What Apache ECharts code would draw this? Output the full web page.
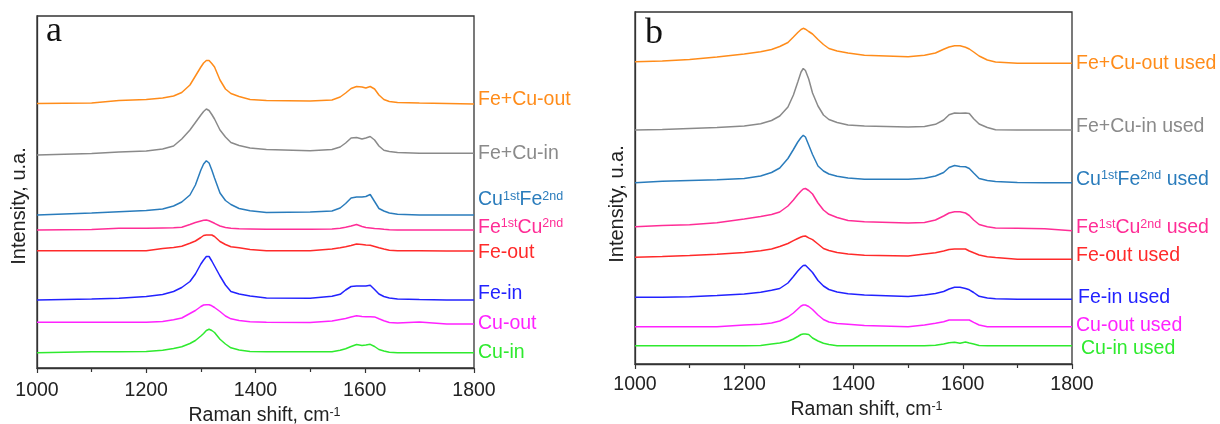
<!DOCTYPE html>
<html><head><meta charset="utf-8">
<script src="https://cdn.jsdelivr.net/npm/echarts@6/dist/echarts.min.js"></script>
<style>html,body{margin:0;padding:0;background:#fff}#c{width:1220px;height:424px}</style>
</head><body><div id="c"></div>
<script>
// ---------- Panel a (as prepared) ----------
const wavenumberA = [1000,1100,1150,1200,1230,1250,1265,1280,1290,1300,1305,1310,1315,1320,1325,1335,1345,1355,1370,1390,1420,1500,1540,1555,1565,1575,1585,1595,1602,1610,1618,1626,1635,1645,1660,1700,1750,1800];
const feCuOut = [264.5,265,267.5,268.5,270,272,275.5,283,292,301,305,307.5,307.5,304.5,301,288,279,274.5,271.5,268.5,267.5,267,268,271,275,279.5,281.5,281,280,281.5,279,273,268.5,266.5,265.5,265,264.5,264];
const feCuIn = [213,214.5,216,217,219,222,229,238,245.5,253,256.5,259,257.5,253.5,249,238,231,225.5,222.5,220,218.5,217.3,218.5,221,225,230,230.5,229,230,231.5,228,222,217.7,216.5,215.5,214.7,214.7,214.7];
const cuFeA = [153,155,156.3,157.5,159,162,166,173,183,198,204,207.3,205,198,190,175,167.5,163.5,159.5,157.3,155.5,156,157,160,164.5,170,171,171,171.5,173.5,166.5,159.5,157,155,153.7,153,153,153];
const feCuA = [138,138.5,139.7,139.7,140,140.2,140.7,143.5,145.5,147,147.7,148,147.2,146,144.7,142,140.5,139.7,139.2,139,138.7,138.7,139,139.8,140.7,142,143.5,141.5,140.5,140,139.5,139.2,138.7,138.2,138,138,138,138];
const feOut = [117.3,117.3,117.3,117.3,119.5,120.5,121.7,124.7,127,130.5,132.5,133,133,133,131.5,126.5,123.5,121.2,120.2,118.5,117.3,117.3,119,120.2,121.2,122.5,124,123.5,123,122.7,121.5,120.2,119,117.7,117.3,117.3,117,117];
const feIn = [68,69,69.7,71.5,73.5,76.5,80.5,86.5,94,104,108,111.5,111.5,107,102,92,83,76.5,74,72,70,69.7,71.7,73.7,78,81.5,82,82,82,82.7,78.5,74,71.5,70,69,68.5,68,68];
const cuOut = [45.7,45.7,45.7,45.7,46.5,48.2,50,54.5,57.5,61.5,63,63.3,63.3,62.2,60.5,56.5,52,49.2,47.5,46.2,45.7,45.5,47,48.5,49.5,51,52.3,51.5,51.3,51.3,51.1,49.2,47.2,45.5,45,46,44,44];
const cuIn = [15.3,16.3,16.3,16.5,17.8,19.5,21.2,24.5,27.5,32,34.5,37.5,38.8,37.5,35.5,28.7,24,20.2,18,16.5,16.3,16.3,16.3,17.7,19.3,21.5,23.5,22.5,23,23.7,21.5,18.5,17,15.7,15.3,15.3,15.3,15.3];
const labelsA = ['Fe+Cu-out','Fe+Cu-in','{n|Cu}{s|1st}{n|Fe}{s|2nd}','{n|Fe}{s|1st}{n|Cu}{s|2nd}','Fe-out','Fe-in','Cu-out','Cu-in'];

// ---------- Panel b (used) ----------
const wavenumberB = [1000,1050,1100,1150,1200,1230,1250,1265,1280,1290,1298,1304,1308,1312,1318,1325,1335,1345,1355,1370,1390,1420,1500,1530,1550,1565,1575,1585,1595,1605,1612,1620,1630,1645,1660,1700,1750,1800];
const feCuOutUsed = [302.3,303,304.5,307,310,312.2,314.5,317.5,321.5,327,331.5,334.5,335.7,334.8,332.5,330,324.5,319.5,315.5,313,311,308.8,307.3,308.8,311,314.7,317,318.3,318.3,316.7,315,312,308,304,302,300.7,300.7,300.7];
const feCuInUsed = [234,234.5,235.5,236.5,238,240.2,243.5,248,257,269,282,292,295.5,293.5,285,271,258,249,244.5,241.5,239,238,237,237.5,239.7,244,249.2,251,250.7,251,250.5,245.2,240,236.5,234.2,234,234,234];
const cuFeUsed = [181.3,182.7,183.5,184.2,185.5,188,191.5,196,205.5,214.5,222,226.5,228.7,227,219,209.5,198,193,190,187.7,186,184.7,184.7,185.7,188,191.5,196.5,198.5,197.5,197.3,195.5,191,185.5,183.5,182.5,181.5,181.3,181.3];
const feCuUsed = [137.3,138.5,139.3,141.3,145,147.5,149.5,152,158,164,169.5,173,175,175.5,173.5,170,161,154,149.7,146.5,143.5,142.2,141,141.5,144,148,151,152.3,152.3,151,148.5,144,139.5,137.3,136,135.7,135.2,133.3];
const feOutUsed = [106.7,107.5,108.5,109.8,111.5,113.2,115,117.5,120.5,123.3,125.5,127,127.8,128,126.2,124.3,120,115.5,113.5,111.5,110,108.7,108,110,111.2,113,114.5,115,115,115,113,111.2,109,107.3,106.5,104.7,104.7,104.7];
const feInUsed = [66.7,66.7,67.2,68.5,70,71.7,73.7,75.5,81,87.5,93,96.5,98.5,98.7,95.5,91.5,83.5,78,74.5,72,70.2,69,67.5,69,70.5,72.5,75,76.7,76.7,75.5,74.2,71.5,67.7,66,65.3,64.7,64.7,64.7];
const cuOutUsed = [37.3,37.3,37.3,37.3,39,39.7,41,43,47,51,55,58,59,59,57.5,54.5,49,44.5,42,40.5,39.7,38.5,37.3,39,40.7,42.3,44,44,44,44,44,41.7,39,37.3,37.3,37.3,37.3,37.3];
const cuInUsed = [18.3,18.3,18.3,18.3,18.3,18.5,20,21,22.7,25,27.5,29.5,30,30,29.5,26,23,20.7,19.5,18.3,18.3,18.3,18.3,18.3,18.8,20,21.2,21.7,20.7,22,21,20,18.5,18.3,18.3,18.3,18.3,18.3];
const labelsB = ['Fe+Cu-out used','Fe+Cu-in used','{n|Cu}{s|1st}{n|Fe}{s|2nd}{n| used}','{n|Fe}{s|1st}{n|Cu}{s|2nd}{n| used}','Fe-out used','Fe-in used','Cu-out used','Cu-in used'];

const xTicks = [1000,1200,1400,1600,1800];
const xTitle = '{n|Raman shift, cm}{s|-1}';
const yTitle = 'Intensity, u.a.';
const colors = ['#ff8c1a','#8a8a8a','#2a7cbc','#ff2d96','#ff2a2a','#2222ff','#ff22ff','#2eea2e'];

// label styling (vertical shift via padding, horizontal gap)
const labelShiftA = [-4,0,-15,-2.5,1.5,-6.5,0,0];
const labelShiftB = [0,-3,-3.5,-3,-3.5,-2,-1.5,3];
const labelGapA = [4,4,4,4,4,4,4,4];
const labelGapB = [4,4,4,4,4,6,4,9];

const seriesA = [feCuOut,feCuIn,cuFeA,feCuA,feOut,feIn,cuOut,cuIn];
const seriesB = [feCuOutUsed,feCuInUsed,cuFeUsed,feCuUsed,feOutUsed,feInUsed,cuOutUsed,cuInUsed];

const FONT = '"Liberation Sans", Arial, sans-serif';
function rich(color){
  return { n:{fontSize:19.5,color:color,fontFamily:FONT}, s:{fontSize:12.5,color:color,fontFamily:FONT,verticalAlign:'top'} };
}
function build(xs, ys, i, labels, shifts, gaps, axisIdx){
  const c = colors[i];
  const txt = labels[i].indexOf('{')>=0 ? labels[i] : '{n|'+labels[i]+'}';
  const d = shifts[i];
  const pad = d<0 ? [0,0,-2*d,0] : [2*d,0,0,0];
  return {
    type:'line', xAxisIndex:axisIdx, yAxisIndex:axisIdx,
    data: xs.map((x,k)=>[x, ys[k]]),
    showSymbol:false, symbol:'none', smooth:false, silent:true,
    lineStyle:{color:c, width:1.5}, itemStyle:{color:c},
    endLabel:{show:true, distance:gaps[i], formatter:()=>txt, rich:rich(c), padding:pad, color:c}
  };
}
function xAxisCfg(idx, gap, margin, shiftX){
  return {
    type:'value', gridIndex:idx, min:1000, max:1800, interval:200,
    axisLine:{show:true, onZero:false, lineStyle:{color:'#333', width:1.3}},
    axisTick:{show:true, length:5, lineStyle:{color:'#333', width:1.2}},
    minorTick:{show:true, splitNumber:2, length:4, lineStyle:{color:'#333', width:1.2}},
    axisLabel:{fontSize:19.5, color:'#222', margin:margin, fontFamily:FONT,
      formatter:v=> xTicks.indexOf(v)>=0 ? String(v) : ''},
    splitLine:{show:false}, minorSplitLine:{show:false},
    name:xTitle, nameLocation:'middle', nameGap:gap,
    nameTextStyle:{padding:[0,0,0,2*shiftX], rich:{n:{fontSize:19.5,color:'#222',fontFamily:FONT}, s:{fontSize:12.5,color:'#222',fontFamily:FONT,verticalAlign:'top'}}}
  };
}
function yAxisCfg(idx, down){
  return {
    type:'value', gridIndex:idx, min:0, max:352,
    axisLine:{show:true, lineStyle:{color:'#333', width:1.3}},
    axisTick:{show:false}, axisLabel:{show:false}, splitLine:{show:false},
    name:yTitle, nameLocation:'middle', nameGap:8, nameRotate:90,
    nameTextStyle:{fontSize:20, color:'#222', fontFamily:FONT, padding:[0,2*down,0,0]}
  };
}

const chart = echarts.init(document.getElementById('c'), null, {renderer:'canvas'});
const series = [];
seriesA.forEach((ys,i)=>series.push(build(wavenumberA, ys, i, labelsA, labelShiftA, labelGapA, 0)));
seriesB.forEach((ys,i)=>series.push(build(wavenumberB, ys, i, labelsB, labelShiftB, labelGapB, 1)));

chart.setOption({
  animation:false,
  backgroundColor:'#fff',
  grid:[
    {left:37, top:16, width:437, height:352, containLabel:false, outerBoundsMode:'none', show:true, borderColor:'#333', borderWidth:1.3, backgroundColor:'transparent'},
    {left:635, top:12, width:437, height:352, containLabel:false, outerBoundsMode:'none', show:true, borderColor:'#333', borderWidth:1.3, backgroundColor:'transparent'}
  ],
  xAxis:[xAxisCfg(0,38,13,9), xAxisCfg(1,33,11,13)],
  yAxis:[yAxisCfg(0,14), yAxisCfg(1,16)],
  graphic:[
    {type:'text', left:46, top:14, style:{text:'a', font:'36px "Liberation Serif", "Times New Roman", serif', fill:'#111'}},
    {type:'text', left:645, top:16, style:{text:'b', font:'36px "Liberation Serif", "Times New Roman", serif', fill:'#111'}}
  ],
  series:series
});
</script>
</body></html>
